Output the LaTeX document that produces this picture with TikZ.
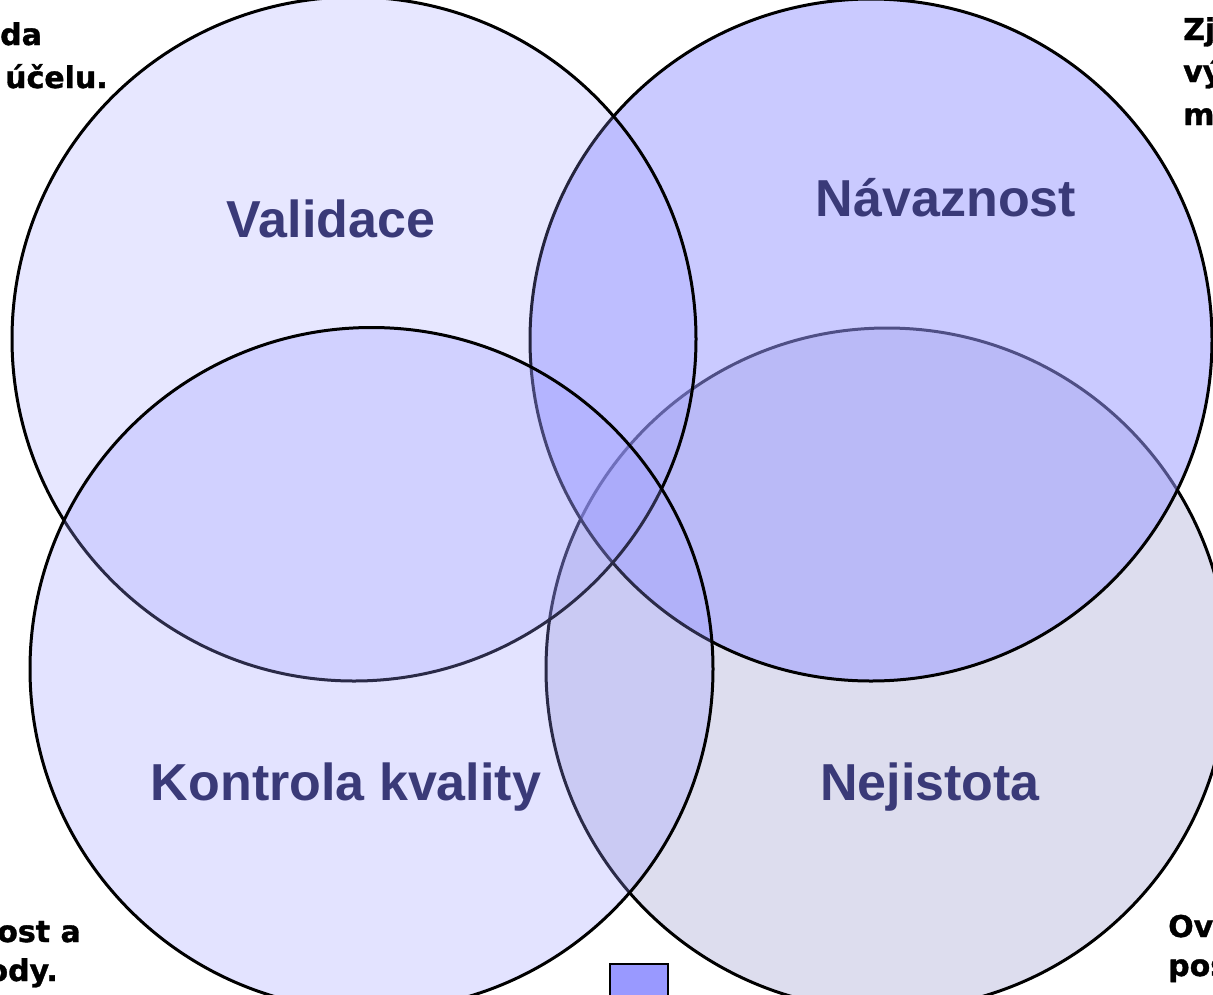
\documentclass[tikz,border=0pt]{standalone}
\usepackage{fontspec}
\newfontfamily\labfont{Liberation Sans}
\newfontfamily\corfont{DejaVu Sans}[BoldFeatures={FakeBold=1.2}]
\definecolor{lav}{HTML}{9999FF}
\definecolor{grlav}{HTML}{9999CC}
\definecolor{labblue}{HTML}{3A3A78}
\begin{document}
\begin{tikzpicture}[x=1pt,y=-1pt,
  ring/.style={draw=black, line width=3pt},
  lab/.style={font=\labfont\bfseries\fontsize{52}{60}\selectfont, text=labblue, inner sep=0pt, anchor=base},
  cor/.style={font=\corfont\bfseries\fontsize{30}{36}\selectfont, text=black, inner sep=0pt},
]
\useasboundingbox (0,0) rectangle (1213,994);
% circles in drawing order
\coordinate (c1) at (354,339);
\coordinate (c2) at (871,340);
\coordinate (c3) at (371.5,669);
\coordinate (c4) at (887,669);
\path[ring, fill=grlav, fill opacity=0.33] (c4) circle [radius=341pt];
\path[ring, fill=lav, fill opacity=0.52] (c2) circle [radius=341pt];
\path[ring, fill=lav, fill opacity=0.24] (c1) circle [radius=342pt];
\path[ring, fill=lav, fill opacity=0.28] (c3) circle [radius=341.5pt];
% labels
\node[lab] (validace) at (331,237) {Validace};
\node[lab] (navaznost) at (946,216) {Návaznost};
\node[lab] (kontrola) at (346,800) {Kontrola kvality};
\node[lab] (nejistota) at (930,800) {Nejistota};
% corner texts (cut by page edge)
\node[cor, anchor=base west] (tl1) at (0,45) {da};
\node[cor, anchor=base west] (tl2) at (5,88) {účelu.};
\node[cor, anchor=base west] (tr1) at (1183,40) {Zj};
\node[cor, anchor=base west] (tr2) at (1183,82) {vý};
\node[cor, anchor=base west] (tr3) at (1183,125) {m};
\node[cor, anchor=base east] (bl1) at (81,942) {ost a};
\node[cor, anchor=base east] (bl2) at (58,981) {ody.};
\node[cor, anchor=base west] (br1) at (1168,937) {Ov};
\node[cor, anchor=base west] (br2) at (1168,976) {pos};
% legend square
\node[draw=black, line width=2pt, fill=lav, minimum width=58pt, minimum height=60pt, inner sep=0pt, anchor=north west] (legend) at (609,963) {};
\end{tikzpicture}
\end{document}
